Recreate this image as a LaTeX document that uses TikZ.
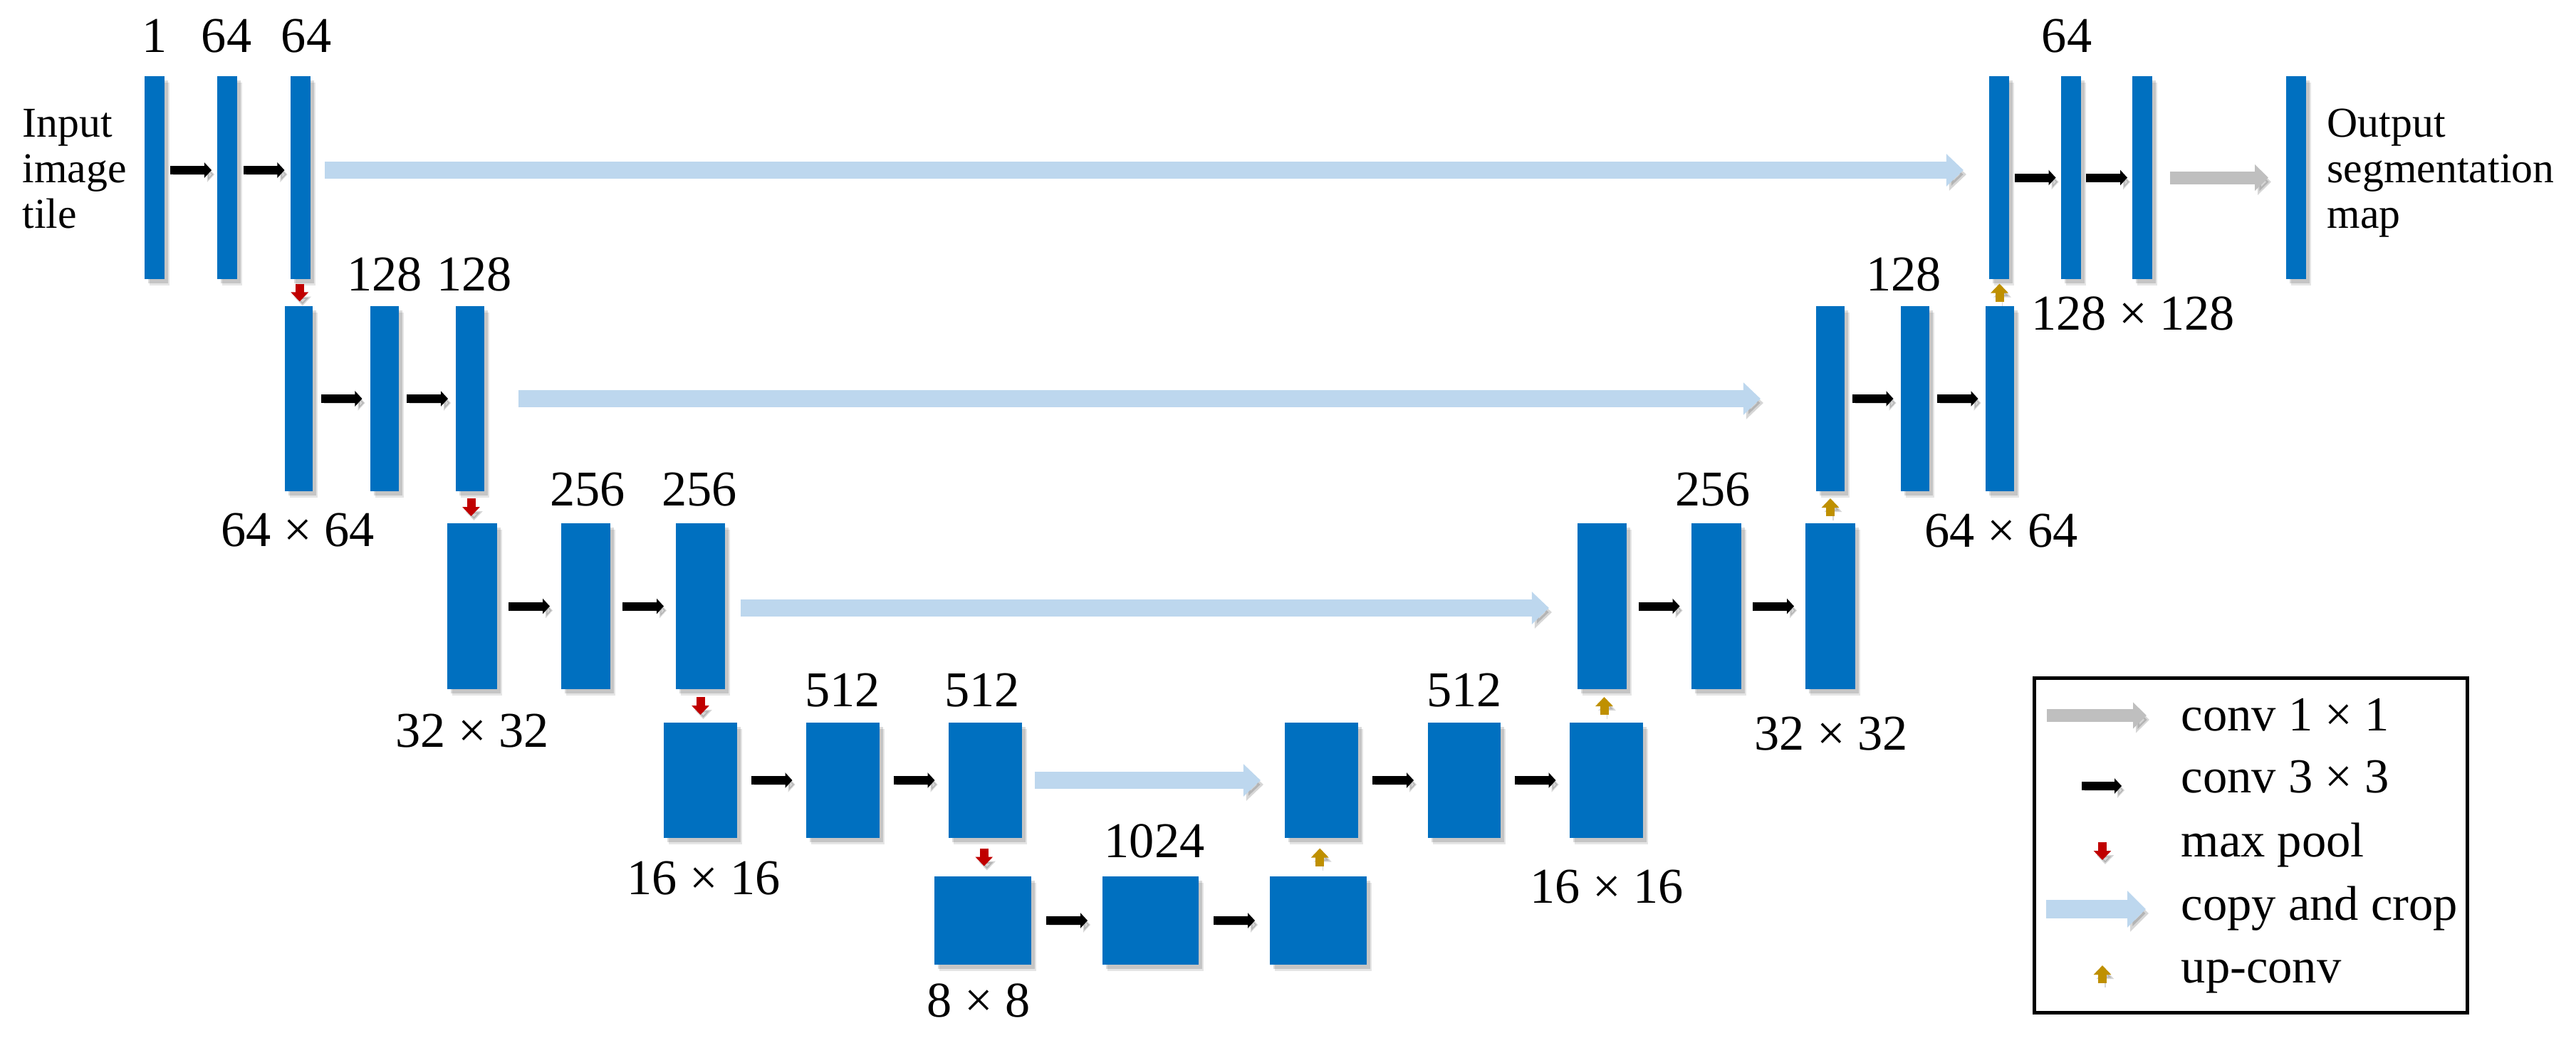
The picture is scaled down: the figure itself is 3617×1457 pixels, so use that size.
\documentclass[tikz,border=0pt]{standalone}
\usepackage{fontspec}
\setmainfont{Liberation Serif}
\usetikzlibrary{arrows.meta,shadows,calc}
\definecolor{barblue}{HTML}{0070C0}
\definecolor{copyblue}{HTML}{BDD7EE}
\definecolor{convgray}{HTML}{BFBFBF}
\definecolor{poolred}{HTML}{C00000}
\definecolor{upgold}{HTML}{BF9000}
\newcommand{\unetbar}[5]{\node[bar, minimum width={(#3-#2)*0.01cm}, minimum height={(#5-#4)*0.01cm}] (#1) at (#2,#4) {};}
\newcommand{\convar}[3][0]{\draw[conv] ($(#2.east)!.5!(#3.west)+(-29,#1)$) -- ++(58,0);}
\newcommand{\poolar}[2]{\draw[pool] ($(#1.south)!.5!(#2.north)+(0,-12.5)$) -- ++(0,25);}
\newcommand{\upar}[2]{\draw[upc] ($(#1.north)!.5!(#2.south)+(0,12.5)$) -- ++(0,-25);}
\begin{document}
\begin{tikzpicture}[x=0.01cm,y=-0.01cm,
  bar/.style={fill=barblue, draw=none, inner sep=0, outer sep=0, anchor=north west,
    drop shadow={shadow xshift=0.07cm, shadow yshift=-0.09cm, opacity=0.10, fill=black},
    drop shadow={shadow xshift=0.045cm, shadow yshift=-0.06cm, opacity=0.14, fill=black}},
  arrsh/.style={preaction={draw=black, opacity=0.16, transform canvas={xshift=0.04cm,yshift=-0.06cm}}},
  conv/.style={arrsh, line width=0.12cm, draw=black, -{Triangle[length=0.1cm,width=0.21cm]}},
  copyarr/.style={arrsh, line width=0.24cm, draw=copyblue, -{Triangle[length=0.24cm,width=0.44cm]}},
  grayarr/.style={arrsh, line width=0.18cm, draw=convgray, -{Triangle[length=0.19cm,width=0.36cm]}},
  pool/.style={arrsh, line width=0.12cm, draw=poolred, -{Triangle[length=0.13cm,width=0.24cm]}},
  upc/.style={arrsh, line width=0.12cm, draw=upgold, -{Triangle[length=0.13cm,width=0.24cm]}},
  lbl/.style={font=\fontsize{20}{24}\selectfont, anchor=base, inner sep=0},
  side/.style={font=\fontsize{17}{18.2}\selectfont, align=left, anchor=base west, inner sep=0},
  leg/.style={font=\fontsize{19.5}{22}\selectfont, anchor=base west, inner sep=0},
  legbox/.style={draw=black, line width=0.045cm, inner sep=0, anchor=north west}]
\useasboundingbox (0,0) rectangle (3617,1457);
% ---- bars
\unetbar{a1}{203}{231}{107}{392}
\unetbar{a2}{305}{333}{107}{392}
\unetbar{a3}{408}{436}{107}{392}
\unetbar{r1a}{2793}{2821}{107}{392}
\unetbar{r1b}{2894}{2922}{107}{392}
\unetbar{r1c}{2994}{3022}{107}{392}
\unetbar{out}{3210}{3238}{107}{392}
\unetbar{b1}{400}{439}{430}{690}
\unetbar{b2}{520}{560}{430}{690}
\unetbar{b3}{640}{680}{430}{690}
\unetbar{r2a}{2550}{2590}{430}{690}
\unetbar{r2b}{2669}{2709}{430}{690}
\unetbar{r2c}{2788}{2828}{430}{690}
\unetbar{c1}{628}{698}{735}{968}
\unetbar{c2}{788}{857}{735}{968}
\unetbar{c3}{949}{1018}{735}{968}
\unetbar{r3a}{2215}{2284}{735}{968}
\unetbar{r3b}{2375}{2445}{735}{968}
\unetbar{r3c}{2535}{2605}{735}{968}
\unetbar{d1}{932}{1035}{1015}{1177}
\unetbar{d2}{1132}{1235}{1015}{1177}
\unetbar{d3}{1332}{1435}{1015}{1177}
\unetbar{r4a}{1804}{1907}{1015}{1177}
\unetbar{r4b}{2005}{2107}{1015}{1177}
\unetbar{r4c}{2204}{2307}{1015}{1177}
\unetbar{e1}{1312}{1448}{1231}{1355}
\unetbar{e2}{1548}{1683}{1231}{1355}
\unetbar{e3}{1783}{1919}{1231}{1355}
% ---- conv 3x3 arrows
\convar[-10.5]{a1}{a2}
\convar[-10.5]{a2}{a3}
\convar{r1a}{r1b}
\convar{r1b}{r1c}
\convar{b1}{b2}
\convar{b2}{b3}
\convar{r2a}{r2b}
\convar{r2b}{r2c}
\convar{c1}{c2}
\convar{c2}{c3}
\convar{r3a}{r3b}
\convar{r3b}{r3c}
\convar{d1}{d2}
\convar{d2}{d3}
\convar{r4a}{r4b}
\convar{r4b}{r4c}
\convar{e1}{e2}
\convar{e2}{e3}
% ---- max pool and up-conv
\poolar{a3}{b1}
\poolar{b3}{c1}
\poolar{c3}{d1}
\poolar{d3}{e1}
\upar{e3}{r4a}
\upar{r4c}{r3a}
\upar{r3c}{r2a}
\upar{r2c}{r1a}
% ---- copy and crop
\draw[copyarr, shorten <=0.2cm, shorten >=0.36cm] ([yshift=0.105cm]a3.east) -- ([yshift=0.105cm]r1a.west);
\draw[copyarr, shorten <=0.48cm, shorten >=0.78cm] (b3.east) -- (r2a.west);
\draw[copyarr, shorten <=0.22cm, shorten >=0.40cm] ([yshift=-0.025cm]c3.east) -- ([yshift=-0.025cm]r3a.west);
\draw[copyarr, shorten <=0.18cm, shorten >=0.34cm] (d3.east) -- (r4a.west);
% ---- conv 1x1
\draw[grayarr, shorten <=0.25cm, shorten >=0.25cm] (r1c.east) -- (out.west);
% ---- labels
\node[lbl] (t1) at (217,73) {1};
\node[lbl] (t2) at (318,73) {64};
\node[lbl] (t3) at (430,73) {64};
\node[lbl] (t4) at (540,408) {128};
\node[lbl] (t5) at (666,408) {128};
\node[lbl] (t6) at (418,767) {64 × 64};
\node[lbl] (t7) at (825,710) {256};
\node[lbl] (t8) at (982,710) {256};
\node[lbl] (t9) at (663,1049) {32 × 32};
\node[lbl] (t10) at (1183,992) {512};
\node[lbl] (t11) at (1379,992) {512};
\node[lbl] (t12) at (988,1256) {16 × 16};
\node[lbl] (t13) at (1621,1204) {1024};
\node[lbl] (t14) at (1374,1428) {8 × 8};
\node[lbl] (t15) at (2056,992) {512};
\node[lbl] (t16) at (2256,1268) {16 × 16};
\node[lbl] (t17) at (2405,710) {256};
\node[lbl] (t18) at (2571,1053) {32 × 32};
\node[lbl] (t19) at (2673,408) {128};
\node[lbl] (t20) at (2810,768) {64 × 64};
\node[lbl] (t21) at (2902,73) {64};
\node[lbl] (t22) at (2995,463) {128 × 128};
\node[side] (inp) at (31,320) {Input\\image\\tile};
\node[side] (outp) at (3267,320) {Output\\segmentation\\map};
% ---- legend
\node[legbox, minimum width=6.08cm, minimum height=4.70cm] (legend) at (2854,950) {};
\coordinate (g1) at (2874,1005); \coordinate (g2) at (3014,1005);
\coordinate (k1) at (2923,1104); \coordinate (k2) at (2979,1104);
\coordinate (p1) at (2952,1183); \coordinate (p2) at (2952,1208);
\coordinate (c1s) at (2873,1277); \coordinate (c2s) at (3013,1277);
\coordinate (u1) at (2952,1381); \coordinate (u2) at (2952,1356);
\draw[grayarr] (g1) -- (g2);
\draw[conv] (k1) -- (k2);
\draw[pool] (p1) -- (p2);
\draw[copyarr, line width=0.26cm, -{Triangle[length=0.26cm,width=0.50cm]}] (c1s) -- (c2s);
\draw[upc] (u1) -- (u2);
\node[leg] (lg1) at (3062,1026) {conv 1 × 1};
\node[leg] (lg2) at (3062,1113) {conv 3 × 3};
\node[leg] (lg3) at (3062,1203) {max pool};
\node[leg] (lg4) at (3062,1292) {copy and crop};
\node[leg] (lg5) at (3062,1380) {up-conv};
\end{tikzpicture}
\end{document}
